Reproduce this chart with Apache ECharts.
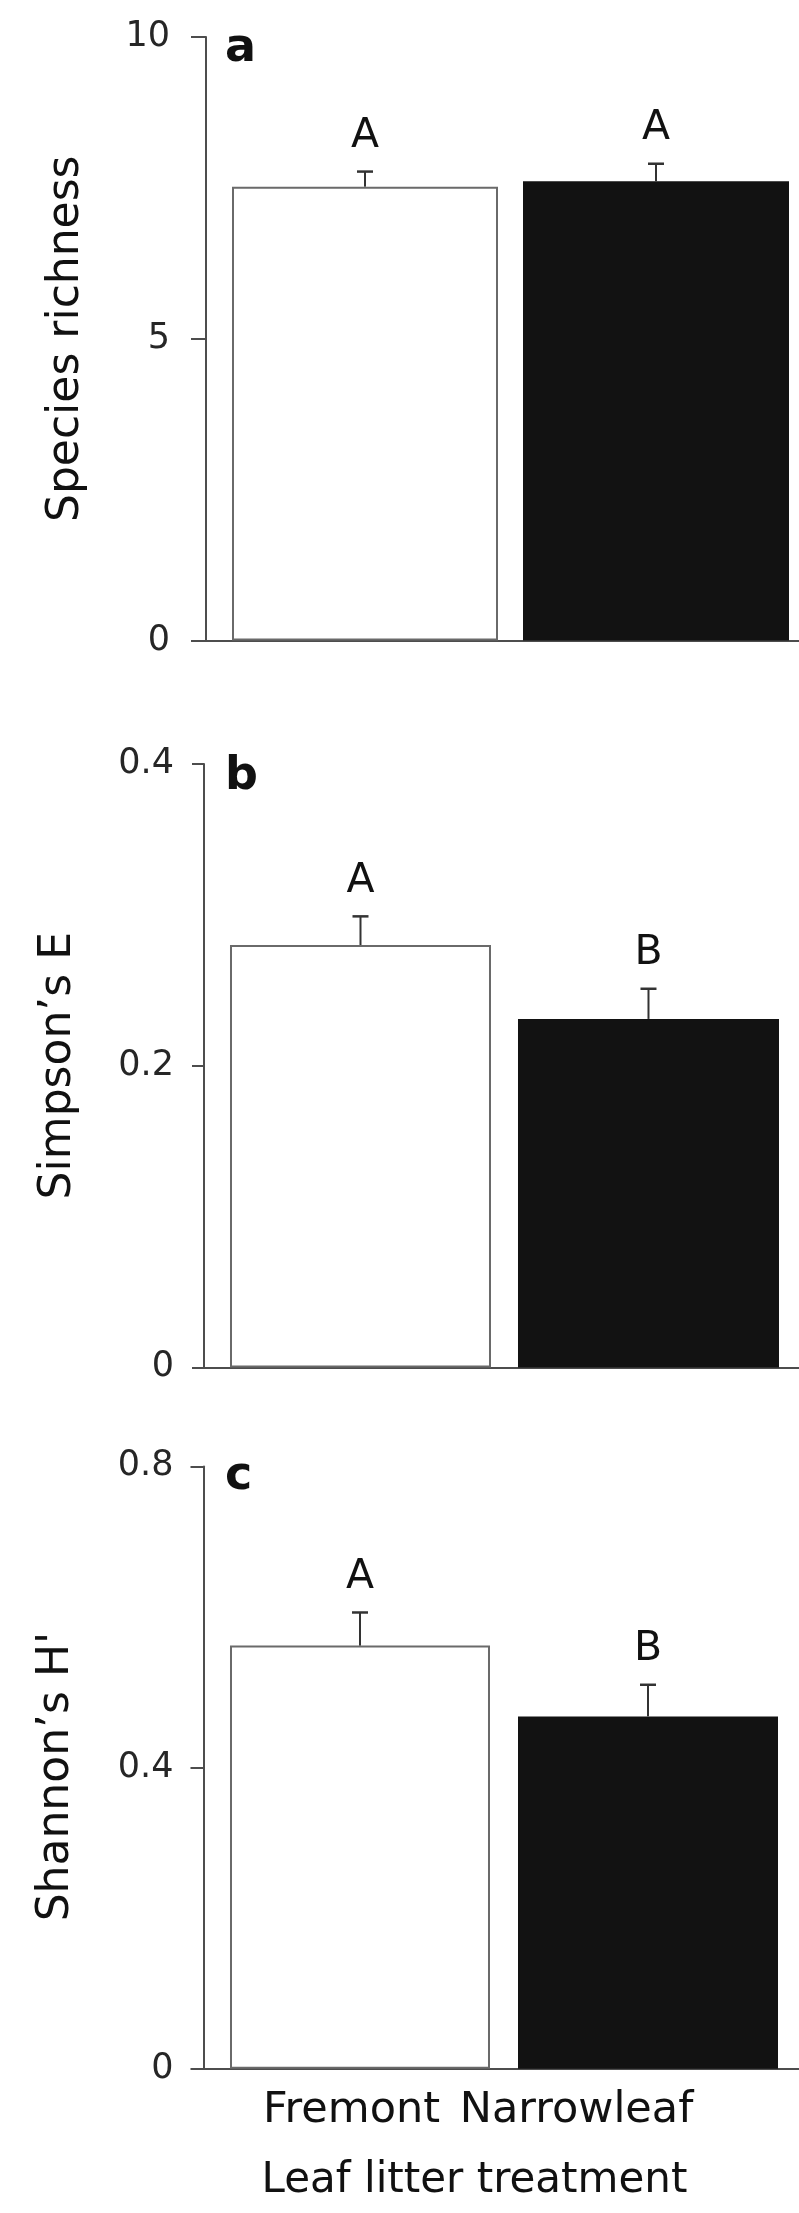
<!DOCTYPE html>
<html><head><meta charset="utf-8">
<script src="https://cdn.jsdelivr.net/npm/echarts@6/dist/echarts.min.js"></script>
<style>html,body{margin:0;padding:0;background:#fff}#chart{width:799px;height:2213px}</style>
</head><body><div id="chart"></div>
<script>
// ---- data ----
const categories = ['Fremont', 'Narrowleaf'];
const xAxisTitle = 'Leaf litter treatment';

const richness = [7.52, 7.61];
const richnessErr = [0.25, 0.29];
const richnessLetters = ['A', 'A'];
const richnessTicks = [0, 5, 10];

const simpson = [0.280, 0.231];
const simpsonErr = [0.019, 0.020];
const simpsonLetters = ['A', 'B'];
const simpsonTicks = [0, 0.2, 0.4];

const shannon = [0.562, 0.468];
const shannonErr = [0.044, 0.042];
const shannonLetters = ['A', 'B'];
const shannonTicks = [0, 0.4, 0.8];

// ---- layout / style ----
const FONT = '"DejaVu Sans", sans-serif';
const AXIS_COLOR = '#4d4d4d';
const panels = [
  {tag: 'a', title: 'Species richness', values: richness, err: richnessErr, letters: richnessLetters, ticks: richnessTicks,
   top: 37, height: 603.5, left: 206, xMin: 0.4536, xMax: 2.4914, barWidth: 266, tickLen: 15, labelMargin: 36, nameGap: 117, namePad: [0,0,0,0], tagY: 49},
  {tag: 'b', title: 'Simpson\u2019s E', values: simpson, err: simpsonErr, letters: simpsonLetters, ticks: simpsonTicks,
   top: 764, height: 603.4, left: 204, xMin: 0.4566, xMax: 2.5226, barWidth: 261, tickLen: 12, labelMargin: 30, nameGap: 123, namePad: [0,0,0,0], tagY: 777},
  {tag: 'c', title: 'Shannon\u2019s H\'', values: shannon, err: shannonErr, letters: shannonLetters, ticks: shannonTicks,
   top: 1466.4, height: 602.4, left: 203.5, xMin: 0.4566, xMax: 2.5243, barWidth: 260, tickLen: 13, labelMargin: 30, nameGap: 125, namePad: [0,18,0,0], tagY: 1477}
];

const grid = [], xAxis = [], yAxis = [], series = [], graphic = [];
panels.forEach((p, i) => {
  grid.push({left: p.left, right: 0, top: p.top, height: p.height});
  xAxis.push({
    type: 'value', gridIndex: i, min: p.xMin, max: p.xMax,
    axisLine: {show: true, onZero: false, lineStyle: {color: AXIS_COLOR, width: 2}},
    axisTick: {show: false}, axisLabel: {show: false}, splitLine: {show: false}
  });
  yAxis.push({
    type: 'value', gridIndex: i,
    min: p.ticks[0], max: p.ticks[p.ticks.length - 1], interval: p.ticks[1] - p.ticks[0],
    axisLine: {show: true, onZero: false, lineStyle: {color: AXIS_COLOR, width: 2}},
    axisTick: {show: true, length: p.tickLen, lineStyle: {color: AXIS_COLOR, width: 2}},
    axisLabel: {fontSize: 35, fontFamily: FONT, color: '#262626', margin: p.labelMargin},
    splitLine: {show: false},
    name: p.title, nameLocation: 'middle', nameGap: p.nameGap,
    nameTextStyle: {fontSize: 44, fontFamily: FONT, color: '#111', padding: p.namePad}
  });
  series.push({
    type: 'bar', xAxisIndex: i, yAxisIndex: i, barWidth: p.barWidth,
    data: p.values.map((v, j) => ({
      value: [j + 1, v],
      itemStyle: j === 0 ? {color: '#ffffff', borderColor: '#6a6a6a', borderWidth: 2}
                         : {color: '#121212', borderWidth: 0}
    })),
    silent: true, animation: false
  });
  series.push({
    type: 'custom', xAxisIndex: i, yAxisIndex: i,
    data: p.values.map((v, j) => [j + 1, v, p.err[j]]),
    renderItem: (params, api) => {
      const x = api.value(0), y = api.value(1), e = api.value(2);
      const base = api.coord([x, y]);
      const top = api.coord([x, y + e]);
      return {type: 'group', children: [
        {type: 'line', shape: {x1: base[0], y1: base[1], x2: top[0], y2: top[1]}, style: {stroke: '#333', lineWidth: 2}},
        {type: 'line', shape: {x1: top[0] - 8, y1: top[1], x2: top[0] + 8, y2: top[1]}, style: {stroke: '#333', lineWidth: 2.5}},
        {type: 'text', style: {text: p.letters[params.dataIndex], x: top[0], y: top[1] - 35,
          align: 'center', verticalAlign: 'middle', textAlign: 'center', textVerticalAlign: 'middle',
          font: '41px ' + FONT, fill: '#111'}}
      ]};
    },
    silent: true, animation: false, z: 5
  });
  graphic.push({type: 'text', x: 225, y: p.tagY,
    style: {text: p.tag, x: 0, y: 0, font: 'bold 46px ' + FONT, fill: '#111',
      align: 'left', verticalAlign: 'middle', textAlign: 'left', textVerticalAlign: 'middle'}});
});

// category labels + axis title under the bottom panel
grid.push({left: 239, width: 450, top: 2067.8, height: 1});
xAxis.push({
  type: 'category', gridIndex: 3, data: categories,
  axisLine: {show: false}, axisTick: {show: false},
  axisLabel: {fontSize: 43, fontFamily: FONT, color: '#111', margin: 21, interval: 0},
  name: xAxisTitle, nameLocation: 'middle', nameGap: 91,
  nameTextStyle: {fontSize: 42, fontFamily: FONT, color: '#111', padding: [0, 0, 0, 21]}
});
yAxis.push({type: 'value', gridIndex: 3, show: false});

const chart = echarts.init(document.getElementById('chart'), null, {renderer: 'canvas'});
chart.setOption({
  backgroundColor: '#ffffff',
  animation: false,
  grid, xAxis, yAxis, series, graphic
});
</script></body></html>
